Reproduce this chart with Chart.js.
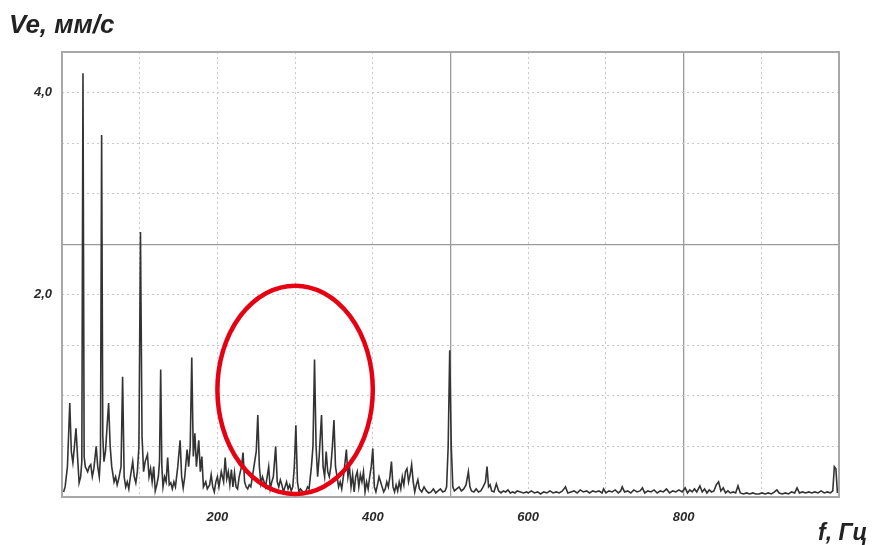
<!DOCTYPE html>
<html>
<head>
<meta charset="utf-8">
<script src="https://cdn.jsdelivr.net/npm/chart.js@4"></script>
<style>
  body { margin: 0; background: #fff; }
  #wrap { position: relative; width: 873px; height: 545px; }
  .lbl { position: absolute; font-family: "Liberation Sans", Arial, sans-serif; font-weight: bold; font-style: italic; color: #222; white-space: nowrap; }
</style>
</head>
<body>
<div id="wrap">
  <canvas id="spectrum" width="873" height="545"></canvas>
  <div class="lbl" style="left:9px; top:9px; font-size:26px;">Ve, мм/с</div>
  <div class="lbl" style="left:818px; top:519px; font-size:23px;">f, Гц</div>
</div>
<script>
// частоты спектра, Гц
const freqs = [
  2, 4, 7, 10, 12, 14, 16, 18, 20, 22, 24, 25.5, 27, 28.5, 30, 33, 35, 37, 39, 41,
  44, 46, 48, 49.5, 51, 52.5, 54, 56, 58, 60, 62, 64, 67, 69, 71, 73, 76, 78, 80, 82,
  84, 86, 88, 91, 93, 95, 97, 99, 101, 103, 105, 107, 110, 112, 114, 116, 118, 120, 122, 124,
  125.5, 127, 128.5, 130, 132, 134, 136, 138, 140, 142, 144, 146, 149, 152, 154, 156, 158, 161, 163, 165,
  167, 169, 171, 173, 176, 178, 180, 182, 185, 187, 190, 192, 194, 196, 198, 200, 202, 205, 208, 210,
  212, 214, 216, 218, 220, 222, 224, 226, 228, 231, 233, 235, 237, 239, 241, 243, 245, 248, 250, 252,
  254, 256, 258, 260, 262, 264, 266, 268, 270, 272, 275, 277, 279, 281, 283, 285, 287, 289, 291, 293,
  295, 297, 299, 301, 303, 305, 307, 310, 313, 316, 318, 321, 323, 325, 327, 329, 331, 334, 336, 338,
  340, 342, 344, 346, 348, 350, 352, 354, 356, 358, 360, 363, 366, 368, 370, 372, 374, 376, 378, 380,
  382, 384, 386, 388, 390, 392, 394, 396, 398, 400, 402, 404, 406, 408, 410, 412, 414, 416, 418, 420,
  422, 424, 426, 428, 430, 432, 434, 436, 438, 440, 442, 444, 446, 448, 450, 452, 454, 456, 458, 460,
  463, 466, 469, 472, 475, 478, 481, 484, 487, 490, 493, 495, 497, 499, 501, 503, 505, 508, 511, 514,
  517, 520, 523, 525, 527, 530, 533, 536, 539, 542, 545, 547, 549, 551, 553, 556, 559, 562, 565, 568,
  571, 574, 577, 580, 583, 586, 590, 594, 598, 600, 604, 608, 612, 616, 620, 624, 628, 632, 636, 640,
  644, 648, 651, 655, 659, 663, 667, 671, 675, 679, 683, 687, 691, 695, 697, 700, 704, 708, 712, 716,
  719, 721, 724, 728, 732, 736, 740, 744, 747, 750, 754, 758, 762, 766, 770, 774, 778, 782, 786, 790,
  794, 798, 802, 805, 808, 811, 814, 817, 821, 824, 827, 830, 833, 836, 839, 842, 845, 848, 851, 854,
  857, 860, 864, 867, 870, 873, 877, 881, 885, 889, 893, 897, 901, 905, 909, 913, 917, 920, 923, 927,
  931, 935, 939, 943, 946, 949, 953, 957, 961, 965, 969, 973, 977, 981, 985, 989, 992, 994, 996, 998
];

// виброскорость, мм/с
const amps = [
  0.05, 0.1, 0.3, 0.93, 0.45, 0.34, 0.5, 0.68, 0.4, 0.14, 0.2, 0.35, 4.19, 0.4, 0.3, 0.25, 0.3, 0.32, 0.2, 0.28,
  0.5, 0.3, 0.2, 0.4, 3.58, 0.6, 0.35, 0.45, 0.7, 0.93, 0.5, 0.3, 0.15, 0.2, 0.12, 0.18, 0.3, 1.19, 0.2, 0.1,
  0.15, 0.08, 0.2, 0.35, 0.2, 0.14, 0.25, 0.5, 2.62, 0.6, 0.25, 0.35, 0.42, 0.2, 0.28, 0.15, 0.3, 0.06, 0.12, 0.2,
  0.35, 1.26, 0.3, 0.1, 0.2, 0.15, 0.39, 0.12, 0.14, 0.08, 0.15, 0.1, 0.3, 0.56, 0.2, 0.09, 0.2, 0.47, 0.3, 0.5,
  1.38, 0.4, 0.63, 0.3, 0.56, 0.25, 0.4, 0.1, 0.15, 0.08, 0.12, 0.22, 0.1, 0.05, 0.15, 0.2, 0.1, 0.25, 0.15, 0.39,
  0.18, 0.25, 0.12, 0.27, 0.1, 0.24, 0.1, 0.08, 0.2, 0.3, 0.44, 0.15, 0.1, 0.08, 0.12, 0.1, 0.2, 0.35, 0.45, 0.81,
  0.3, 0.13, 0.2, 0.15, 0.1, 0.2, 0.3, 0.08, 0.15, 0.2, 0.5, 0.15, 0.1, 0.17, 0.12, 0.05, 0.1, 0.15, 0.08, 0.12,
  0.06, 0.1, 0.3, 0.71, 0.15, 0.05, 0.08, 0.05, 0.04, 0.1, 0.08, 0.3, 0.5, 1.36, 0.5, 0.2, 0.4, 0.81, 0.3, 0.2,
  0.45, 0.25, 0.2, 0.3, 0.5, 0.76, 0.3, 0.2, 0.1, 0.15, 0.08, 0.25, 0.47, 0.2, 0.3, 0.1, 0.22, 0.05, 0.2, 0.25,
  0.1, 0.22, 0.15, 0.25, 0.05, 0.15, 0.08, 0.2, 0.3, 0.48, 0.1, 0.05, 0.12, 0.2, 0.15, 0.1, 0.05, 0.08, 0.15, 0.1,
  0.2, 0.35, 0.1, 0.05, 0.12, 0.06, 0.15, 0.08, 0.2, 0.12, 0.25, 0.28, 0.15, 0.22, 0.32, 0.15, 0.05, 0.12, 0.17, 0.08,
  0.05, 0.1, 0.06, 0.04, 0.05, 0.08, 0.04, 0.06, 0.08, 0.05, 0.06, 0.1, 0.5, 1.45, 0.5, 0.1, 0.06, 0.08, 0.1, 0.06,
  0.08, 0.12, 0.25, 0.1, 0.06, 0.05, 0.08, 0.05, 0.06, 0.1, 0.15, 0.3, 0.1, 0.12, 0.06, 0.05, 0.13, 0.06, 0.04, 0.06,
  0.05, 0.07, 0.04, 0.05, 0.04, 0.06, 0.05, 0.04, 0.05, 0.04, 0.06, 0.04, 0.05, 0.03, 0.05, 0.04, 0.06, 0.04, 0.05, 0.04,
  0.06, 0.1, 0.04, 0.05, 0.06, 0.04, 0.07, 0.05, 0.06, 0.04, 0.06, 0.05, 0.06, 0.04, 0.08, 0.04, 0.06, 0.05, 0.07, 0.04,
  0.06, 0.1, 0.05, 0.06, 0.04, 0.07, 0.05, 0.06, 0.09, 0.04, 0.06, 0.05, 0.07, 0.04, 0.06, 0.05, 0.08, 0.04, 0.06, 0.05,
  0.07, 0.05, 0.09, 0.04, 0.07, 0.05, 0.08, 0.05, 0.11, 0.05, 0.08, 0.04, 0.07, 0.05, 0.06, 0.12, 0.15, 0.06, 0.09, 0.04,
  0.06, 0.04, 0.05, 0.04, 0.11, 0.04, 0.03, 0.04, 0.03, 0.04, 0.03, 0.03, 0.04, 0.03, 0.04, 0.03, 0.05, 0.07, 0.04, 0.03,
  0.04, 0.03, 0.05, 0.04, 0.09, 0.04, 0.05, 0.04, 0.05, 0.04, 0.05, 0.04, 0.06, 0.04, 0.05, 0.04, 0.06, 0.3, 0.28, 0.04
];

// подписи делений
const xLabelValues = [200, 400, 600, 800];
const yLabelValues = [2, 4];
// сплошные линии сетки
const xSolidGrid = [500, 800];
const ySolidGrid = [2.5];

// выделенная область (красный овал): центр и полуоси в единицах осей
const markCenter = [300, 1.06];
const markHalf = [100, 1.03];

const near = (a, b) => Math.abs(a - b) < 1e-6;
const inList = (list, v) => list.some(t => near(t, v));

// рамка графика и красный овал
const framePlugin = {
    id: 'frame',
    afterDatasetsDraw(chart) {
        const ctx = chart.ctx;
        const a = chart.chartArea;
        const xs = chart.scales.x, ys = chart.scales.y;
        ctx.save();
        ctx.strokeStyle = '#a8a8a8';
        ctx.lineWidth = 2;
        ctx.strokeRect(a.left, a.top, a.right - a.left, a.bottom - a.top);

        const cx = xs.getPixelForValue(markCenter[0]);
        const cy = ys.getPixelForValue(markCenter[1]);
        const rx = xs.getPixelForValue(markCenter[0] + markHalf[0]) - cx;
        const ry = cy - ys.getPixelForValue(markCenter[1] + markHalf[1]);
        ctx.beginPath();
        ctx.ellipse(cx, cy, rx, ry, 0, 0, Math.PI * 2);
        ctx.strokeStyle = '#e60012';
        ctx.lineWidth = 4.5;
        ctx.stroke();
        ctx.restore();
    }
};

const tickFont = { family: '"Liberation Sans", Arial, sans-serif', size: 13, weight: 'bold', style: 'italic' };

const ctx = document.getElementById('spectrum').getContext('2d');
new Chart(ctx, {
    type: 'line',
    data: {
        datasets: [{
            data: freqs.map((f, i) => ({ x: f, y: amps[i] })),
            borderColor: '#333333',
            borderWidth: 1.6,
            pointRadius: 0,
            tension: 0,
            fill: false
        }]
    },
    options: {
        responsive: false,
        animation: false,
        devicePixelRatio: 1,
        layout: { padding: { left: 0, top: 52, right: 34, bottom: 0 } },
        plugins: { legend: { display: false }, tooltip: { enabled: false } },
        scales: {
            x: {
                type: 'linear',
                min: 0,
                max: 1000,
                afterFit: s => { s.height = 48; },
                ticks: {
                    stepSize: 100,
                    padding: 13,
                    maxRotation: 0,
                    autoSkip: false,
                    color: '#2a2a2a',
                    font: tickFont,
                    callback: v => inList(xLabelValues, v) ? String(v) : ''
                },
                grid: {
                    drawTicks: false,
                    color: c => inList(xSolidGrid, c.tick.value) ? '#9a9a9a' : '#c8c8c8',
                    lineWidth: c => inList(xSolidGrid, c.tick.value) ? 1.3 : 1
                },
                border: {
                    display: false,
                    dash: c => (c.tick && inList(xSolidGrid, c.tick.value)) ? [] : [2, 3]
                }
            },
            y: {
                min: 0,
                max: 4.4,
                afterFit: s => { s.width = 62; },
                ticks: {
                    stepSize: 0.5,
                    padding: 10,
                    autoSkip: false,
                    color: '#2a2a2a',
                    font: tickFont,
                    callback: v => inList(yLabelValues, v) ? v.toFixed(1).replace('.', ',') : ''
                },
                grid: {
                    drawTicks: false,
                    color: c => inList(ySolidGrid, c.tick.value) ? '#9a9a9a' : '#c8c8c8',
                    lineWidth: c => inList(ySolidGrid, c.tick.value) ? 1.3 : 1
                },
                border: {
                    display: false,
                    dash: c => (c.tick && inList(ySolidGrid, c.tick.value)) ? [] : [2, 3]
                }
            }
        }
    },
    plugins: [framePlugin]
});
</script>
</body>
</html>
